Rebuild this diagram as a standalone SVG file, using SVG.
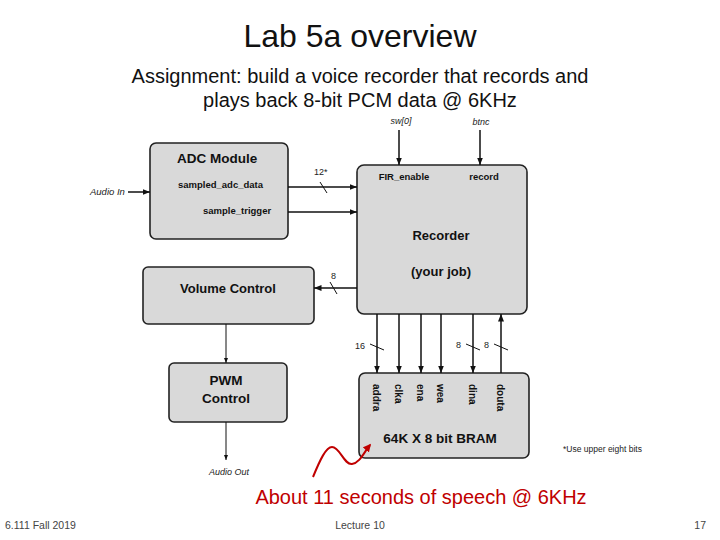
<svg xmlns="http://www.w3.org/2000/svg" width="720" height="540" viewBox="0 0 720 540">
<defs>
<marker id="ah" viewBox="0 0 10 10" refX="10" refY="5" markerWidth="5" markerHeight="5" orient="auto"><path d="M0,1 L10,5 L0,9 z" fill="#111"/></marker>
<marker id="rah" viewBox="0 0 10 10" refX="8" refY="5" markerWidth="4" markerHeight="4" orient="auto"><path d="M0,0 L10,5 L0,10 z" fill="#c00000"/></marker>
<style>
.box{fill:#d9d9d9;stroke:#222;stroke-width:1.6}
.t{font-family:"Liberation Sans",Arial,sans-serif;fill:#111}
.b{font-weight:bold}
.w{stroke:#111;stroke-width:1.5;fill:none}
.s{stroke:#111;stroke-width:1;fill:none}
.lbl{font-family:"Liberation Sans",Arial,sans-serif;font-size:9px;fill:#222}
.it{font-style:italic}
</style>
</defs>
<rect width="720" height="540" fill="#fff"/>
<text class="t" x="360" y="47" font-size="32" text-anchor="middle">Lab 5a overview</text>
<text class="t" x="360" y="83" font-size="20" text-anchor="middle">Assignment: build a voice recorder that records and</text>
<text class="t" x="360" y="107" font-size="20" text-anchor="middle">plays back 8-bit PCM data @ 6KHz</text>

<g id="adc">
<rect class="box" x="150" y="143" width="138" height="96" rx="6"/>
<text class="t b" x="177" y="163" font-size="13.5">ADC Module</text>
<text class="t b" x="178" y="188" font-size="9.5">sampled_adc_data</text>
<text class="t b" x="203" y="214" font-size="9.5">sample_trigger</text>
</g>
<g id="recorder">
<rect class="box" x="357" y="165" width="170" height="149" rx="7"/>
<text class="t b" x="404" y="180" font-size="9.5" text-anchor="middle">FIR_enable</text>
<text class="t b" x="484" y="180" font-size="9.5" text-anchor="middle">record</text>
<text class="t b" x="441" y="240" font-size="13" text-anchor="middle">Recorder</text>
<text class="t b" x="441" y="276" font-size="13" text-anchor="middle">(your job)</text>
</g>
<g id="volume">
<rect class="box" x="143" y="267" width="171" height="57" rx="5"/>
<text class="t b" x="228" y="293" font-size="13" text-anchor="middle">Volume Control</text>
</g>
<g id="pwm">
<rect class="box" x="169" y="363" width="118" height="59" rx="5"/>
<text class="t b" x="226" y="385" font-size="13.5" text-anchor="middle">PWM</text>
<text class="t b" x="226" y="403" font-size="13.5" text-anchor="middle">Control</text>
</g>
<g id="bram">
<rect class="box" x="359" y="373" width="170" height="85" rx="6"/>
<g class="t b" font-size="10">
<text transform="translate(373,384) rotate(90)">addra</text>
<text transform="translate(395,384) rotate(90)">clka</text>
<text transform="translate(417,384) rotate(90)">ena</text>
<text transform="translate(437,384) rotate(90)">wea</text>
<text transform="translate(469,384) rotate(90)">dina</text>
<text transform="translate(497,384) rotate(90)">douta</text>
</g>
<text class="t b" x="440" y="443" font-size="13.5" text-anchor="middle">64K X 8 bit BRAM</text>
</g>

<g id="connectors">
<line class="w" x1="128" y1="192" x2="150" y2="192" marker-end="url(#ah)"/>
<line class="w" x1="288" y1="187" x2="357" y2="187" marker-end="url(#ah)"/>
<line class="s" x1="320" y1="182" x2="327" y2="193"/>
<line class="w" x1="288" y1="212" x2="357" y2="212" marker-end="url(#ah)"/>
<line class="w" x1="399" y1="130" x2="399" y2="165" marker-end="url(#ah)"/>
<line class="w" x1="480" y1="130" x2="480" y2="165" marker-end="url(#ah)"/>
<line class="w" x1="357" y1="288" x2="314" y2="288" marker-end="url(#ah)"/>
<line class="s" x1="330" y1="282" x2="337" y2="294"/>
<line class="s" x1="226" y1="324" x2="226" y2="363" marker-end="url(#ah)"/>
<line class="s" x1="226" y1="422" x2="226" y2="460" marker-end="url(#ah)"/>
<line class="w" x1="377" y1="314" x2="377" y2="373" marker-end="url(#ah)"/>
<line class="w" x1="399" y1="314" x2="399" y2="373" marker-end="url(#ah)"/>
<line class="w" x1="421" y1="314" x2="421" y2="373" marker-end="url(#ah)"/>
<line class="w" x1="441" y1="314" x2="441" y2="373" marker-end="url(#ah)"/>
<line class="w" x1="473" y1="314" x2="473" y2="373" marker-end="url(#ah)"/>
<line class="w" x1="501" y1="373" x2="501" y2="314" marker-end="url(#ah)"/>
<line class="s" x1="370" y1="344" x2="384" y2="350"/>
<line class="s" x1="466" y1="344" x2="480" y2="350"/>
<line class="s" x1="494" y1="344" x2="508" y2="350"/>
<path d="M313,477 C320,460 326,447 332,447 C340,447 344,465 352,464 C360,463 364,452 370,445" stroke="#c00000" stroke-width="2" fill="none" marker-end="url(#rah)"/>
</g>

<g class="lbl">
<text class="it" x="90" y="195" font-size="9.5">Audio In</text>
<text x="314" y="175">12*</text>
<text x="331" y="279">8</text>
<text x="355" y="349">16</text>
<text x="456" y="348">8</text>
<text x="484" y="348">8</text>
<text class="it" x="401" y="124" text-anchor="middle">sw[0]</text>
<text class="it" x="481" y="125" text-anchor="middle">btnc</text>
<text class="it" x="229" y="475" text-anchor="middle">Audio Out</text>
<text x="563" y="452" font-size="8.5">*Use upper eight bits</text>
</g>

<text x="421" y="504" font-family="Liberation Sans,Arial,sans-serif" font-size="20" fill="#c00000" text-anchor="middle">About 11 seconds of speech @ 6KHz</text>
<g font-family="Liberation Sans,Arial,sans-serif" font-size="10.5" fill="#444">
<text x="5" y="529">6.111 Fall 2019</text>
<text x="360" y="529" text-anchor="middle">Lecture 10</text>
<text x="706" y="529" text-anchor="end">17</text>
</g>
</svg>
